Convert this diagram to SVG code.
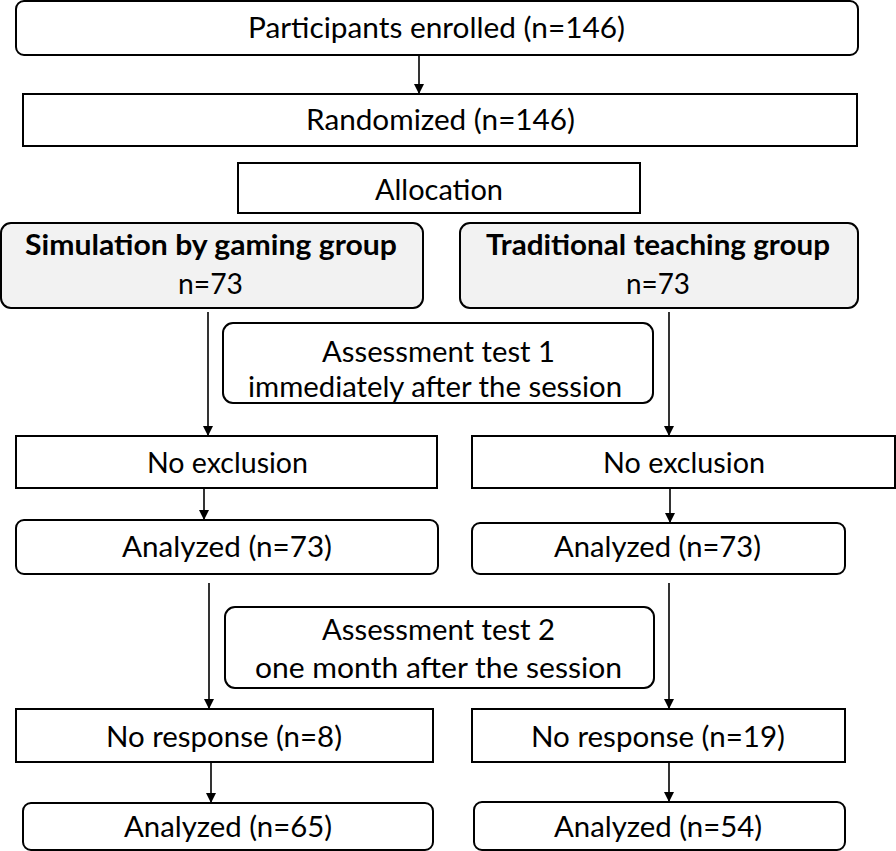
<svg xmlns="http://www.w3.org/2000/svg" width="896" height="851" viewBox="0 0 896 851">
<defs>
<marker id="ah" markerUnits="userSpaceOnUse" markerWidth="10" markerHeight="10" refX="10" refY="5" orient="auto">
<path d="M0,0 L10,5 L0,10 z" fill="#000"/>
</marker>
<style>
.b{fill:#fff;stroke:#000;stroke-width:2}
.g{fill:#f2f2f2;stroke:#000;stroke-width:2}
.t{font-family:Lato,"Liberation Sans",sans-serif;font-size:28px;fill:#000;text-anchor:middle}
.bd{font-weight:bold}
.c{stroke:#000;stroke-width:1.6;fill:none;marker-end:url(#ah)}
</style>
</defs>
<rect width="896" height="851" fill="#fff"/>
<g id="enrolled"><rect class="b" x="16" y="1" width="842" height="54" rx="8"/><text class="t" x="436.5" y="38" textLength="377" lengthAdjust="spacingAndGlyphs">Participants enrolled (n=146)</text></g>
<g id="randomized"><rect class="b" x="23" y="94" width="834" height="52"/><text class="t" x="440.5" y="130" textLength="269" lengthAdjust="spacingAndGlyphs">Randomized (n=146)</text></g>
<g id="allocation"><rect class="b" x="238" y="163" width="402" height="50"/><text class="t" x="439" y="200" textLength="128" lengthAdjust="spacingAndGlyphs">Allocation</text></g>
<g id="sim"><rect class="g" x="1" y="223" width="422" height="85" rx="10"/><text class="t bd" x="211" y="255" textLength="372" lengthAdjust="spacingAndGlyphs">Simulation by gaming group</text><text class="t" x="210.5" y="294" textLength="65" lengthAdjust="spacingAndGlyphs">n=73</text></g>
<g id="trad"><rect class="g" x="460" y="223" width="398" height="85" rx="10"/><text class="t bd" x="658" y="255" textLength="344" lengthAdjust="spacingAndGlyphs">Traditional teaching group</text><text class="t" x="658" y="294" textLength="64" lengthAdjust="spacingAndGlyphs">n=73</text></g>
<g id="assess1"><rect class="b" x="223" y="323" width="430" height="80" rx="10"/><text class="t" x="438.5" y="362" textLength="233" lengthAdjust="spacingAndGlyphs">Assessment test 1</text><text class="t" x="435" y="397" textLength="374" lengthAdjust="spacingAndGlyphs">immediately after the session</text></g>
<g id="noexcl-l"><rect class="b" x="16" y="436" width="421" height="52"/><text class="t" x="227.5" y="473" textLength="161" lengthAdjust="spacingAndGlyphs">No exclusion</text></g>
<g id="noexcl-r"><rect class="b" x="472" y="436" width="423" height="52"/><text class="t" x="684" y="473" textLength="162" lengthAdjust="spacingAndGlyphs">No exclusion</text></g>
<g id="anal1-l"><rect class="b" x="16" y="520" width="422" height="54" rx="8"/><text class="t" x="227" y="557" textLength="210" lengthAdjust="spacingAndGlyphs">Analyzed (n=73)</text></g>
<g id="anal1-r"><rect class="b" x="472" y="523" width="373" height="51" rx="8"/><text class="t" x="657.5" y="557" textLength="207" lengthAdjust="spacingAndGlyphs">Analyzed (n=73)</text></g>
<g id="assess2"><rect class="b" x="225" y="607" width="429" height="81" rx="10"/><text class="t" x="438.5" y="640" textLength="233" lengthAdjust="spacingAndGlyphs">Assessment test 2</text><text class="t" x="438.5" y="678" textLength="367" lengthAdjust="spacingAndGlyphs">one month after the session</text></g>
<g id="noresp-l"><rect class="b" x="16" y="709" width="417" height="53"/><text class="t" x="224" y="747" textLength="236" lengthAdjust="spacingAndGlyphs">No response (n=8)</text></g>
<g id="noresp-r"><rect class="b" x="472" y="709" width="373" height="53"/><text class="t" x="658" y="747" textLength="254" lengthAdjust="spacingAndGlyphs">No response (n=19)</text></g>
<g id="anal2-l"><rect class="b" x="23" y="803" width="410" height="47" rx="8"/><text class="t" x="228" y="837" textLength="208" lengthAdjust="spacingAndGlyphs">Analyzed (n=65)</text></g>
<g id="anal2-r"><rect class="b" x="474" y="802" width="371" height="48" rx="8"/><text class="t" x="658" y="837" textLength="208" lengthAdjust="spacingAndGlyphs">Analyzed (n=54)</text></g>
<g id="connectors">
<line class="c" x1="419" y1="55" x2="419" y2="94"/>
<line class="c" x1="208" y1="312" x2="208" y2="436"/>
<line class="c" x1="669" y1="312" x2="669" y2="436"/>
<line class="c" x1="204" y1="488" x2="204" y2="520"/>
<line class="c" x1="670" y1="488" x2="670" y2="523"/>
<line class="c" x1="209" y1="583" x2="209" y2="709"/>
<line class="c" x1="669" y1="583" x2="669" y2="709"/>
<line class="c" x1="211" y1="762" x2="211" y2="803"/>
<line class="c" x1="669" y1="762" x2="669" y2="802"/>
</g>
</svg>
